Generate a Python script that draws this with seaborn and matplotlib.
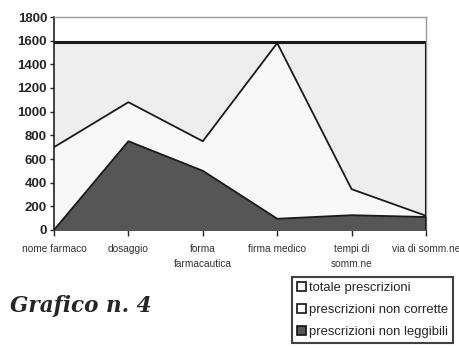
import numpy as np
import pandas as pd
import matplotlib.pyplot as plt
import seaborn as sns
from matplotlib.patches import Patch

categorie = ['nome farmaco', 'dosaggio', 'forma\nfarmacautica', 'firma medico',
             'tempi di\nsomm.ne', 'via di somm.ne']
totale = [1590, 1590, 1590, 1590, 1590, 1590]
non_corrette = [700, 1080, 750, 1580, 345, 120]
non_leggibili = [0, 750, 500, 95, 125, 110]

sns.set_style('white')
plt.rcParams['font.family'] = ['Liberation Sans', 'DejaVu Sans']

df = pd.DataFrame({'pos': np.arange(len(categorie)), 'totale': totale,
                   'non_corrette': non_corrette, 'non_leggibili': non_leggibili})

fig = plt.figure(figsize=(4.59, 3.48), dpi=100)
ax = fig.add_axes([54 / 459, 1 - 230 / 348, 372 / 459, 213 / 348])

# aree sovrapposte (non impilate), dalla serie piu' grande alla piu' piccola
ax.fill_between(df['pos'], df['totale'], color='#eeeeee', zorder=1)
ax.fill_between(df['pos'], df['non_corrette'], color='#f8f8f8', zorder=2)
ax.fill_between(df['pos'], df['non_leggibili'], color='#565656', zorder=3)
sns.lineplot(data=df, x='pos', y='totale', color='#1a1a1a', lw=2.2, ax=ax, zorder=4)
sns.lineplot(data=df, x='pos', y='non_corrette', color='#1a1a1a', lw=1.3, ax=ax, zorder=4)
sns.lineplot(data=df, x='pos', y='non_leggibili', color='#1a1a1a', lw=1.3, ax=ax, zorder=4)
ax.plot([5, 5], [0, totale[-1]], color='#1a1a1a', lw=1.5, zorder=4)

ax.set_xlim(0, 5)
ax.set_ylim(0, 1800)
ax.set_yticks(range(0, 1801, 200))
ax.set_xticks(df['pos'])
ax.set_xticklabels(categorie, fontsize=7.3, color='#333333', linespacing=1.6)
ax.tick_params(axis='y', labelsize=9.5, length=3, width=1, direction='out', left=True, pad=2)
ax.tick_params(axis='x', length=4, width=1, direction='out', bottom=True, pad=6)
for t in ax.get_yticklabels():
    t.set_fontweight('bold')
ax.set_xlabel('')
ax.set_ylabel('')
for s in ['left', 'bottom']:
    ax.spines[s].set_color('#222222')
    ax.spines[s].set_linewidth(1.2)
for s in ['top', 'right']:
    ax.spines[s].set_color('#999999')
    ax.spines[s].set_linewidth(1)

handles = [Patch(facecolor='#f4f4f4', edgecolor='#111111', lw=1.2),
           Patch(facecolor='#ffffff', edgecolor='#111111', lw=1.2),
           Patch(facecolor='#565656', edgecolor='#111111', lw=1.2)]
labels = ['totale prescrizioni', 'prescrizioni non corrette', 'prescrizioni non leggibili']
leg = fig.legend(handles, labels, loc='upper left', bbox_to_anchor=(292 / 459, 1 - 277 / 348),
                 fontsize=9.4, frameon=True, fancybox=False, handlelength=0.75,
                 handleheight=0.75, handletextpad=0.2, borderpad=0.35, labelspacing=0.75,
                 borderaxespad=0)
leg.get_frame().set_edgecolor('#111111')
leg.get_frame().set_linewidth(1.5)

fig.text(10 / 459, 1 - 312 / 348, 'Grafico n. 4', fontsize=15.5, fontweight='bold',
         fontstyle='italic', family=['DejaVu Serif'], va='baseline')

fig.savefig('out.png', dpi=100)
